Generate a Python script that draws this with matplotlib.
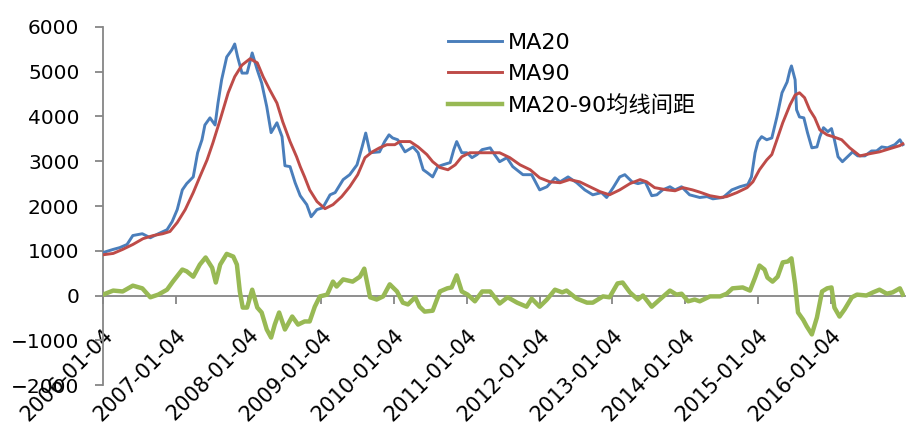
import numpy as np
import pandas as pd
import matplotlib
matplotlib.use("Agg")
import matplotlib.pyplot as plt
import matplotlib.transforms as mtransforms

plt.rcParams["font.family"] = ["DejaVu Sans", "Noto Sans CJK SC"]

# time in decimal years (2006.0 = 2006-01-04)
ma20_t = [2006.00, 2006.14, 2006.23, 2006.33, 2006.41, 2006.54, 2006.65, 2006.76, 2006.88, 2006.95,
          2007.02, 2007.09, 2007.15, 2007.24, 2007.30, 2007.36, 2007.40, 2007.47, 2007.54, 2007.58,
          2007.63, 2007.70, 2007.77, 2007.81, 2007.85, 2007.91, 2007.98, 2008.05, 2008.12, 2008.18,
          2008.25, 2008.31, 2008.39, 2008.46, 2008.50, 2008.57, 2008.64, 2008.71, 2008.80, 2008.86,
          2008.94, 2009.02, 2009.12, 2009.19, 2009.30, 2009.39, 2009.49, 2009.56, 2009.61, 2009.67,
          2009.80, 2009.87, 2009.93, 2009.98, 2010.05, 2010.15, 2010.26, 2010.33, 2010.40, 2010.46,
          2010.53, 2010.60, 2010.67, 2010.77, 2010.82, 2010.86, 2010.93, 2011.00, 2011.07, 2011.14,
          2011.21, 2011.32, 2011.38, 2011.45, 2011.55, 2011.63, 2011.77, 2011.89, 2012.00, 2012.10,
          2012.21, 2012.28, 2012.39, 2012.51, 2012.62, 2012.73, 2012.85, 2012.92, 2013.01, 2013.10,
          2013.17, 2013.27, 2013.35, 2013.45, 2013.54, 2013.61, 2013.69, 2013.79, 2013.86, 2013.95,
          2014.06, 2014.20, 2014.30, 2014.38, 2014.52, 2014.64, 2014.75, 2014.86, 2014.91, 2014.96,
          2015.00, 2015.05, 2015.12, 2015.19, 2015.26, 2015.33, 2015.40, 2015.44, 2015.46, 2015.51,
          2015.53, 2015.57, 2015.63, 2015.68, 2015.74, 2015.81, 2015.85, 2015.90, 2015.96, 2016.01,
          2016.05, 2016.10, 2016.16, 2016.23, 2016.30, 2016.37, 2016.47, 2016.56, 2016.63, 2016.70,
          2016.78, 2016.88, 2016.95, 2016.99]
ma20 = [960, 1030, 1070, 1140, 1340, 1380, 1290, 1380, 1470, 1650,
        1920, 2360, 2500, 2650, 3190, 3480, 3810, 3970, 3810, 4300,
        4820, 5330, 5490, 5620, 5330, 4970, 4970, 5420, 5040, 4750,
        4220, 3640, 3860, 3550, 2900, 2880, 2520, 2230, 2030, 1760,
        1920, 1960, 2250, 2300, 2590, 2700, 2920, 3320, 3630, 3190,
        3210, 3440, 3590, 3520, 3480, 3210, 3320, 3190, 2810, 2740,
        2650, 2880, 2920, 2970, 3260, 3440, 3190, 3190, 3080, 3150,
        3260, 3300, 3150, 2990, 3080, 2880, 2700, 2700, 2360, 2430,
        2630, 2540, 2650, 2520, 2360, 2250, 2300, 2190, 2410, 2650,
        2700, 2540, 2500, 2540, 2230, 2250, 2360, 2430, 2360, 2430,
        2250, 2190, 2210, 2160, 2190, 2360, 2430, 2480, 2650, 3190,
        3440, 3550, 3480, 3520, 3990, 4530, 4770, 5040, 5130, 4820,
        4150, 3990, 3970, 3640, 3300, 3320, 3550, 3750, 3660, 3730,
        3480, 3100, 2990, 3100, 3210, 3120, 3120, 3230, 3230, 3320,
        3300, 3370, 3480, 3370]

ma90_t = [2006.00, 2006.14, 2006.27, 2006.41, 2006.55, 2006.69, 2006.82, 2006.92, 2007.02, 2007.13,
          2007.24, 2007.33, 2007.43, 2007.51, 2007.61, 2007.72, 2007.81, 2007.91, 2008.02, 2008.12,
          2008.20, 2008.29, 2008.39, 2008.47, 2008.57, 2008.66, 2008.71, 2008.77, 2008.84, 2008.94,
          2009.05, 2009.16, 2009.28, 2009.39, 2009.50, 2009.60, 2009.70, 2009.80, 2009.90, 2010.01,
          2010.08, 2010.22, 2010.33, 2010.45, 2010.53, 2010.63, 2010.74, 2010.84, 2010.93, 2011.04,
          2011.18, 2011.32, 2011.45, 2011.59, 2011.73, 2011.87, 2012.00, 2012.14, 2012.28, 2012.41,
          2012.55, 2012.69, 2012.83, 2012.96, 2013.10, 2013.24, 2013.38, 2013.47, 2013.58, 2013.75,
          2013.86, 2013.97, 2014.10, 2014.20, 2014.34, 2014.48, 2014.57, 2014.71, 2014.85, 2014.93,
          2015.02, 2015.12, 2015.19, 2015.26, 2015.34, 2015.44, 2015.51, 2015.57, 2015.64, 2015.71,
          2015.78, 2015.85, 2015.95, 2016.03, 2016.15, 2016.26, 2016.40, 2016.54, 2016.67, 2016.81,
          2016.95, 2016.99]
ma90 = [910, 940, 1030, 1140, 1270, 1340, 1380, 1430, 1630, 1920,
        2300, 2650, 3030, 3410, 3930, 4530, 4890, 5150, 5290, 5200,
        4890, 4600, 4300, 3880, 3440, 3100, 2880, 2650, 2360, 2100,
        1940, 2030, 2210, 2430, 2700, 3080, 3210, 3300, 3370, 3370,
        3440, 3440, 3320, 3150, 2990, 2860, 2810, 2920, 3100, 3190,
        3190, 3190, 3190, 3080, 2920, 2810, 2630, 2540, 2520, 2590,
        2540, 2430, 2320, 2250, 2360, 2500, 2590, 2540, 2410, 2360,
        2340, 2410, 2360, 2310, 2230, 2190, 2210, 2300, 2410, 2540,
        2810, 3030, 3150, 3480, 3860, 4260, 4480, 4530, 4420, 4150,
        3970, 3700, 3590, 3550, 3480, 3300, 3120, 3170, 3210, 3280,
        3350, 3390]

gap_t = [2006.00, 2006.14, 2006.27, 2006.41, 2006.54, 2006.65, 2006.76, 2006.88, 2006.96, 2007.09,
         2007.15, 2007.24, 2007.33, 2007.41, 2007.50, 2007.55, 2007.61, 2007.70, 2007.79, 2007.84,
         2007.88, 2007.92, 2007.98, 2008.05, 2008.12, 2008.18, 2008.25, 2008.31, 2008.36, 2008.42,
         2008.50, 2008.60, 2008.68, 2008.77, 2008.84, 2008.91, 2008.98, 2009.08, 2009.16, 2009.21,
         2009.30, 2009.43, 2009.53, 2009.59, 2009.67, 2009.76, 2009.85, 2009.94, 2010.04, 2010.12,
         2010.19, 2010.29, 2010.35, 2010.42, 2010.53, 2010.63, 2010.73, 2010.79, 2010.86, 2010.93,
         2011.01, 2011.11, 2011.21, 2011.32, 2011.45, 2011.56, 2011.69, 2011.82, 2011.89, 2012.00,
         2012.10, 2012.21, 2012.31, 2012.37, 2012.51, 2012.65, 2012.73, 2012.87, 2012.96, 2013.07,
         2013.14, 2013.24, 2013.35, 2013.42, 2013.54, 2013.65, 2013.79, 2013.88, 2013.95, 2014.04,
         2014.13, 2014.20, 2014.34, 2014.48, 2014.57, 2014.65, 2014.79, 2014.89, 2014.96, 2015.02,
         2015.09, 2015.13, 2015.20, 2015.27, 2015.34, 2015.41, 2015.46, 2015.51, 2015.55, 2015.62,
         2015.67, 2015.74, 2015.81, 2015.88, 2015.95, 2016.01, 2016.05, 2016.12, 2016.19, 2016.29,
         2016.36, 2016.49, 2016.58, 2016.67, 2016.77, 2016.85, 2016.95, 2016.99]
gap = [20, 110, 90, 220, 160, -40, 20, 130, 310, 580,
       540, 420, 690, 850, 620, 290, 690, 930, 870, 690,
       90, -270, -270, 130, -270, -380, -760, -940, -650, -380,
       -760, -470, -650, -580, -580, -250, -20, 20, 310, 200,
       360, 310, 420, 600, -40, -90, -20, 250, 90, -160,
       -200, -40, -250, -360, -340, 90, 160, 180, 450, 90,
       20, -130, 90, 90, -180, -40, -160, -250, -70, -250,
       -90, 130, 70, 110, -70, -160, -160, -20, -40, 270,
       290, 70, -90, 0, -250, -90, 110, 20, 40, -130,
       -90, -130, -20, -20, 40, 160, 180, 110, 400, 670,
       580, 400, 310, 420, 740, 760, 830, 250, -380, -540,
       -690, -870, -490, 90, 160, 180, -270, -470, -310, -40,
       20, 0, 70, 130, 40, 70, 160, 20]

tick_years = list(range(2006, 2017))
tick_labels = [f"{y}-01-04" for y in tick_years]
series_names = ["MA20", "MA90", "MA20-90均线间距"]


def to_dates(t):
    t = np.asarray(t, dtype=float)
    return pd.Timestamp("2006-01-04") + pd.to_timedelta((t - 2006) * 365.25, unit="D")


fig = plt.figure(figsize=(9.09, 4.23), dpi=100)
ax = fig.add_axes([103 / 909, 38 / 423, 802 / 909, 358 / 423])

ax.plot(to_dates(ma20_t), ma20, color="#4A7EBB", lw=2.1, label=series_names[0], zorder=3)
ax.plot(to_dates(ma90_t), ma90, color="#BE4B48", lw=2.1, label=series_names[1], zorder=3)
ax.plot(to_dates(gap_t), gap, color="#98B954", lw=3.2, label=series_names[2], zorder=3)

ax.set_ylim(-2000, 6000)
ax.set_yticks(range(-2000, 6001, 1000))
ax.set_xlim(to_dates([2006.0, 2017.02]))
ax.set_xticks([pd.Timestamp(f"{y}-01-04") for y in tick_years])
ax.set_xticklabels(tick_labels)

for s in ["top", "right"]:
    ax.spines[s].set_visible(False)
ax.spines["bottom"].set_position(("data", 0))
for s in ["left", "bottom"]:
    ax.spines[s].set_color("#868686")
    ax.spines[s].set_linewidth(1.3)

ax.tick_params(axis="y", direction="out", length=6, width=1.3, color="#868686",
               labelsize=14.5, pad=11)
ax.tick_params(axis="x", direction="out", length=6, width=1.3, color="#868686",
               labelsize=15, pad=15)

shift = mtransforms.ScaledTranslation(0, 0, fig.dpi_scale_trans)
for lab in ax.get_xticklabels():
    lab.set_rotation(45)
    lab.set_ha("right")
    lab.set_va("top")
    lab.set_rotation_mode("anchor")
    lab.set_transform(lab.get_transform() + shift)

ax.legend(loc="upper left", bbox_to_anchor=(448 / 909, 1 - 33 / 423),
          bbox_transform=fig.transFigure, frameon=False, fontsize=16,
          handlelength=2.45, handletextpad=0.25, labelspacing=0.5,
          borderpad=0, borderaxespad=0)

fig.savefig("out.png", dpi=100)
